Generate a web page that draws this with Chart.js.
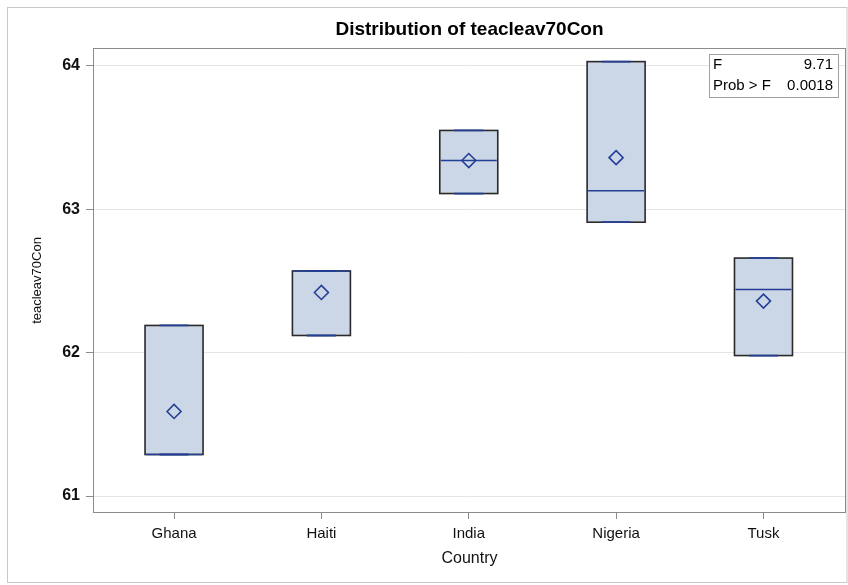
<!DOCTYPE html>
<html>
<head>
<meta charset="utf-8">
<script src="https://cdn.jsdelivr.net/npm/chart.js@4/dist/chart.umd.min.js"></script>
<style>
  html, body { margin: 0; padding: 0; background: #fff; }
  #wrap { width: 848px; height: 585px; }
</style>
</head>
<body>
<div id="wrap"><canvas id="c" width="848" height="585"></canvas></div>
<script>
const categories = ['Ghana', 'Haiti', 'India', 'Nigeria', 'Tusk'];
const q1Values     = [61.29, 62.12, 63.11, 62.91, 61.98];
const q3Values     = [62.19, 62.57, 63.55, 64.03, 62.66];
const medianValues = [61.29, 62.57, 63.34, 63.13, 62.44];
const meanValues   = [61.59, 62.42, 63.34, 63.36, 62.36];
const yTicks = [61, 62, 63, 64];
const statLabels = ['F', 'Prob > F'];
const statValues = ['9.71', '0.0018'];

const FONT = "'Liberation Sans', Arial, sans-serif";
const BOX_BLUE = '#233f95';

const boxPlugin = {
  id: 'boxdeco',
  beforeDraw(chart) {
    const ctx = chart.ctx;
    ctx.save();
    ctx.fillStyle = '#fff';
    ctx.fillRect(0, 0, chart.width, chart.height);
    ctx.strokeStyle = '#c8c8c8';
    ctx.lineWidth = 1;
    ctx.strokeRect(7.5, 7.5, 839.5, 575);
    ctx.restore();
  },
  afterDatasetsDraw(chart) {
    const ctx = chart.ctx;
    const xs = chart.scales.x, ys = chart.scales.y;
    const meta = chart.getDatasetMeta(0);
    ctx.save();
    meta.data.forEach((bar, i) => {
      const half = bar.width / 2;
      const cx = xs.getPixelForValue(i);
      const top = ys.getPixelForValue(q3Values[i]);
      const bot = ys.getPixelForValue(q1Values[i]);
      const med = ys.getPixelForValue(medianValues[i]);
      ctx.strokeStyle = '#2a2a2a';
      ctx.lineWidth = 1.6;
      ctx.strokeRect(cx - half, top, half * 2, bot - top);
      ctx.strokeStyle = BOX_BLUE;
      ctx.lineWidth = 1.8;
      ctx.beginPath();
      ctx.moveTo(cx - half / 2, top); ctx.lineTo(cx + half / 2, top);
      ctx.moveTo(cx - half / 2, bot); ctx.lineTo(cx + half / 2, bot);
      ctx.stroke();
      ctx.lineWidth = 1.5;
      ctx.beginPath();
      ctx.moveTo(cx - half + 1, med); ctx.lineTo(cx + half - 1, med);
      ctx.stroke();
    });
    ctx.restore();
  },
  afterDraw(chart) {
    const ctx = chart.ctx;
    const a = chart.chartArea;
    ctx.save();
    ctx.strokeStyle = '#8c8c8c';
    ctx.lineWidth = 1;
    ctx.strokeRect(a.left + 0.5, a.top + 0.5, a.right - a.left - 1, a.bottom - a.top - 1);
    ctx.fillStyle = '#000';
    ctx.font = 'bold 19px ' + FONT;
    ctx.textAlign = 'center';
    ctx.textBaseline = 'middle';
    ctx.fillText('Distribution of teacleav70Con', (a.left + a.right) / 2, 30);
    const bx = a.right - 137, by = a.top + 6, bw = 129, bh = 43;
    ctx.fillStyle = '#fff';
    ctx.fillRect(bx, by, bw, bh);
    ctx.strokeStyle = '#a0a0a0';
    ctx.strokeRect(bx + 0.5, by + 0.5, bw, bh);
    ctx.fillStyle = '#000';
    ctx.font = '15px ' + FONT;
    statLabels.forEach((lab, i) => {
      const ty = by + 11 + i * 21;
      ctx.textAlign = 'left';
      ctx.fillText(lab, bx + 4, ty);
      ctx.textAlign = 'right';
      ctx.fillText(statValues[i], bx + bw - 5, ty);
    });
    ctx.restore();
  }
};

new Chart(document.getElementById('c'), {
  type: 'bar',
  data: {
    datasets: [
      {
        type: 'bar',
        data: categories.map((c, i) => ({ x: i, y: [q1Values[i], q3Values[i]] })),
        backgroundColor: '#cbd6e6',
        borderWidth: 0,
        barThickness: 58,
        order: 2
      },
      {
        type: 'scatter',
        data: categories.map((c, i) => ({ x: i, y: meanValues[i] })),
        pointStyle: 'rectRot',
        pointRadius: 7,
        borderColor: BOX_BLUE,
        backgroundColor: 'rgba(0,0,0,0)',
        borderWidth: 1.6,
        order: 1
      }
    ]
  },
  options: {
    responsive: false,
    animation: false,
    events: [],
    layout: { autoPadding: false, padding: { top: 48, right: 2, left: 0, bottom: 0 } },
    plugins: { legend: { display: false }, tooltip: { enabled: false }, title: { display: false } },
    scales: {
      x: {
        type: 'linear',
        offset: false,
        min: -0.55,
        max: 4.56,
        afterBuildTicks(scale) { scale.ticks = categories.map((c, i) => ({ value: i })); },
        afterFit(scale) { scale.height = 72; scale.paddingLeft = 0; scale.paddingRight = 0; },
        grid: { offset: false, drawOnChartArea: false, drawTicks: true, tickLength: 6, tickColor: '#8c8c8c' },
        border: { display: false },
        ticks: {
          callback: (v) => categories[v],
          color: '#111',
          font: { family: FONT, size: 15 },
          padding: 6,
          maxRotation: 0, autoSkip: false
        },
        title: { display: true, text: 'Country', color: '#111', font: { family: FONT, size: 16 }, padding: { top: 3, bottom: 17 } }
      },
      y: {
        min: 60.882,
        max: 64.125,
        afterBuildTicks(scale) { scale.ticks = yTicks.map(v => ({ value: v })); },
        afterFit(scale) { scale.width = 93; scale.paddingTop = 0; scale.paddingBottom = 0; },
        grid: { color: '#e6e6e6', tickLength: 7, tickColor: '#8c8c8c', drawTicks: true },
        border: { display: false },
        ticks: { color: '#111', font: { family: FONT, size: 16, weight: 'bold' }, padding: 6 },
        title: { display: true, text: 'teacleav70Con', color: '#111', font: { family: FONT, size: 13 }, padding: { top: 30, bottom: 0 } }
      }
    }
  },
  plugins: [boxPlugin]
});
</script>
</body>
</html>
